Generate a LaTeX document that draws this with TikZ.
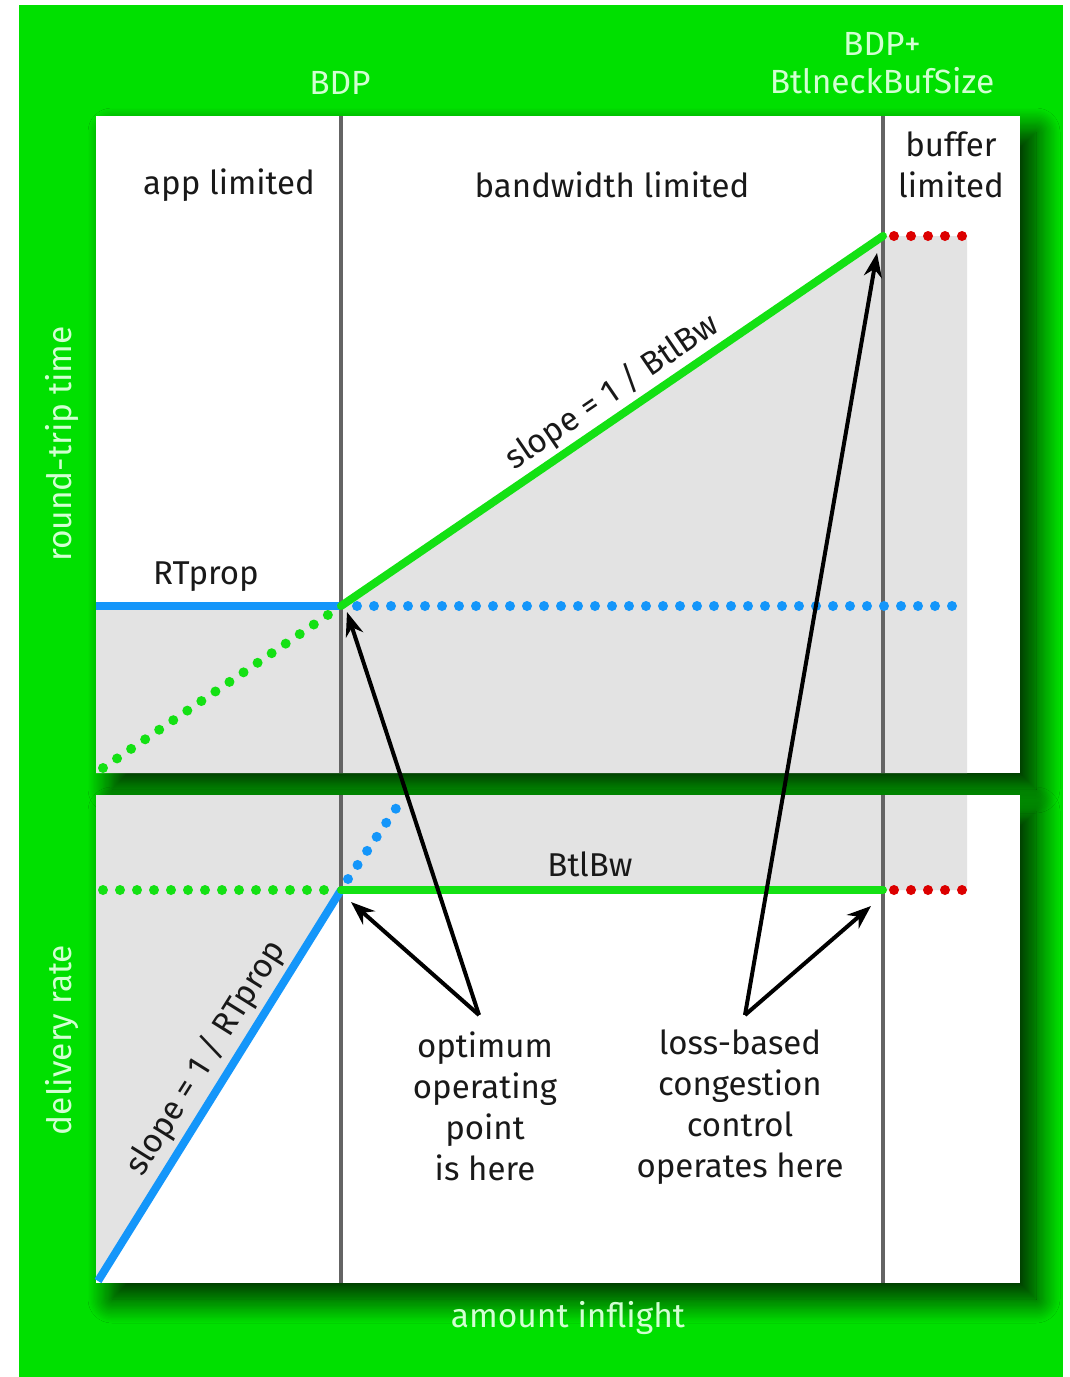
\documentclass[tikz,border=0pt]{standalone}
\usepackage{fontspec}
\setmainfont{Fira Sans}
\usetikzlibrary{shadows.blur,arrows.meta}
\definecolor{bggreen}{RGB}{0,224,0}
\definecolor{lightlab}{RGB}{210,255,210}
\definecolor{shadegray}{RGB}{227,227,227}
\definecolor{lgreen}{RGB}{20,225,20}
\definecolor{lblue}{RGB}{20,150,250}
\definecolor{lred}{RGB}{220,0,0}
\definecolor{divider}{RGB}{100,100,100}
\tikzset{
  panel/.style={fill=white,draw=none,blur shadow={shadow xshift=16pt,shadow yshift=-16pt,shadow blur radius=24pt,shadow opacity=85,shadow blur steps=20}},
  outerlab/.style={text=lightlab,font=\fontsize{33.5}{38}\selectfont,align=center,inner sep=0pt},
  innerlab/.style={text=black!90,font=\fontsize{33}{41}\selectfont,align=center,inner sep=0pt},
  solidcurve/.style={line width=8pt},
  dotcurve/.style={line width=10pt,line cap=round,dash pattern=on 0pt off 17pt},
  divline/.style={draw=divider,line width=4pt},
  pointer/.style={draw=black,line width=4pt,-{Stealth[length=24pt,width=18pt]}}
}
\begin{document}
\begin{tikzpicture}[x=1pt,y=-1pt]
\useasboundingbox (0,0) rectangle (1069,1377);
\fill[white] (0,0) rectangle (1069,1377);
\fill[bggreen] (19,5) rectangle (1063,1377);
% panels
\path[panel] (96,116) rectangle (1020,773);
\path[panel] (96,795) rectangle (1020,1283);
% gray regions
\fill[shadegray] (96,606) -- (341,606) -- (883,236) -- (967,236) -- (967,773) -- (96,773) -- cycle;
\fill[shadegray] (96,795) -- (967,795) -- (967,890) -- (341,890) -- (96,1280) -- cycle;
% key points
\coordinate (bdpTop) at (341,606);
\coordinate (bufTop) at (883,236);
\coordinate (bdpBot) at (341,890);
\coordinate (bufBot) at (883,890);
% dividers
\draw[divline] (341,116) -- (341,773);
\draw[divline] (883,116) -- (883,773);
\draw[divline] (341,795) -- (341,1283);
\draw[divline] (883,795) -- (883,1283);
% top curves
\draw[dotcurve,draw=lblue] (357,606) -- (960,606);
\draw[dotcurve,draw=lgreen] (103,768) -- (bdpTop);
\draw[dotcurve,draw=lred] (894,236) -- (963,236);
\draw[solidcurve,draw=lblue] (96,606) -- (bdpTop);
\draw[solidcurve,draw=lgreen,line cap=round] (bdpTop) -- (bufTop);
% bottom curves
\draw[dotcurve,draw=lgreen] (103,890) -- (324,890);
\draw[dotcurve,draw=lblue] (348,879) -- (399,804);
\draw[dotcurve,draw=lred] (894,890) -- (963,890);
\draw[solidcurve,draw=lblue] (98,1281) -- (bdpBot);
\draw[solidcurve,draw=lgreen,line cap=round] (bdpBot) -- (bufBot);
% outer labels
\node[outerlab] (bdp) at (340,83) {BDP};
\node[outerlab] (bdpbuf) at (882,63) {BDP+\\BtlneckBufSize};
\node[outerlab,rotate=90] (rtt) at (62,444) {round-trip time};
\node[outerlab,rotate=90] (dr) at (62,1040) {delivery rate};
\node[outerlab] (amt) at (568,1318) {amount inflight};
% region labels
\node[innerlab] (app) at (229,185) {app limited};
\node[innerlab] (bw) at (612,185) {bandwidth limited};
\node[innerlab] (buf) at (951,165) {buffer\\limited};
% curve labels
\node[innerlab] (rtprop) at (206,577) {RTprop};
\node[innerlab] (btlbw) at (590,864) {BtlBw};
\node[innerlab,rotate=34.3] (s1) at (612,392) {slope = 1 / BtlBw};
\node[innerlab,rotate=58] (s2) at (206,1058) {slope = 1 / RTprop};
% annotations
\node[innerlab] (opt) at (485,1106) {optimum\\operating\\point\\is here};
\node[innerlab] (loss) at (740,1107) {loss-based\\congestion\\control\\operates here};
\coordinate (optTip) at (479,1015);
\coordinate (lossTip) at (745,1015);
\draw[pointer] (optTip) -- (347,612);
\draw[pointer] (optTip) -- (351,902);
\draw[pointer] (lossTip) -- (877,253);
\draw[pointer] (lossTip) -- (871,906);
\end{tikzpicture}
\end{document}
